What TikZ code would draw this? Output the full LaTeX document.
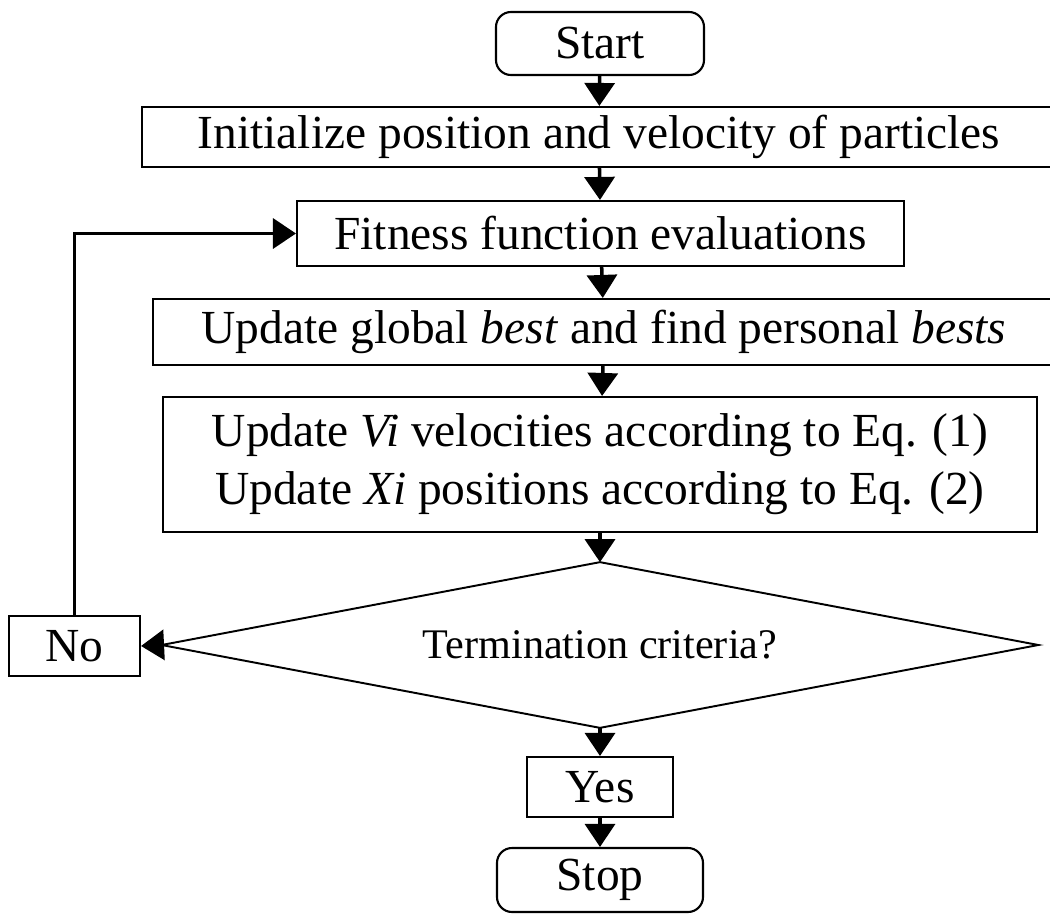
\documentclass[tikz,border=0pt]{standalone}
\usepackage{fontspec}
\setmainfont{Liberation Serif}
\usepackage{tikz}
\usetikzlibrary{arrows.meta}

\begin{document}
\begin{tikzpicture}[
		every node/.style={font=\fontsize{27}{33}\selectfont},
		box/.style={draw,line width=1.2pt,inner sep=0pt,align=center},
		term/.style={box,rounded corners=0.3cm},
		flow/.style={line width=2pt,-{Triangle[length=0.46cm,width=0.6cm]}}]
		\useasboundingbox (0,0) rectangle (21,-18.32);
		\clip (0,0) rectangle (21,-18.32);
		\node[term,minimum width=4.16cm,minimum height=1.26cm] (start) at (12,-0.87) {Start};
		\node[box,minimum width=18.28cm,minimum height=1.2cm] (init) at (11.98,-2.74) {Initialize position and velocity of particles};
		\node[box,minimum width=12.14cm,minimum height=1.3cm] (fit) at (12.01,-4.67) {Fitness function evaluations};
		\node[box,minimum width=18.04cm,minimum height=1.32cm] (glob) at (12.08,-6.64) {Update global \textit{best} and find personal \textit{bests}};
		\node[box,minimum width=17.48cm,minimum height=2.7cm] (upd) at (12,-9.29) {Update \textit{Vi} velocities according to Eq. (1)\\Update \textit{Xi} positions according to Eq. (2)};
		\node[minimum width=17.52cm,minimum height=3.3cm,inner sep=0pt,font=\fontsize{24}{29}\selectfont] (crit) at (12,-12.9) {Termination criteria?};
		\draw[line width=1.1pt] (crit.west) -- (crit.north) -- (crit.east) -- (crit.south) -- cycle;
		\node[box,minimum width=2.62cm,minimum height=1.2cm] (no) at (1.49,-12.92) {No};
		\node[box,minimum width=2.92cm,minimum height=1.2cm] (yes) at (12,-15.74) {Yes};
		\node[term,minimum width=4.12cm,minimum height=1.28cm] (stop) at (12,-17.6) {Stop};
		% main flow
		\draw[flow] (start) -- (init);
		\draw[flow] (init) -- (fit);
		\draw[flow] (fit) -- (glob);
		\draw[flow] (glob) -- (upd);
		\draw[flow] (upd) -- (crit.north);
		\draw[flow] (crit.south) -- (yes);
		\draw[flow] (yes) -- (stop);
		% loop back
		\draw[flow] (crit.west) -- (no.east);
		\draw[flow] (no.north) |- (fit.west);
	\end{tikzpicture}
\end{document}
